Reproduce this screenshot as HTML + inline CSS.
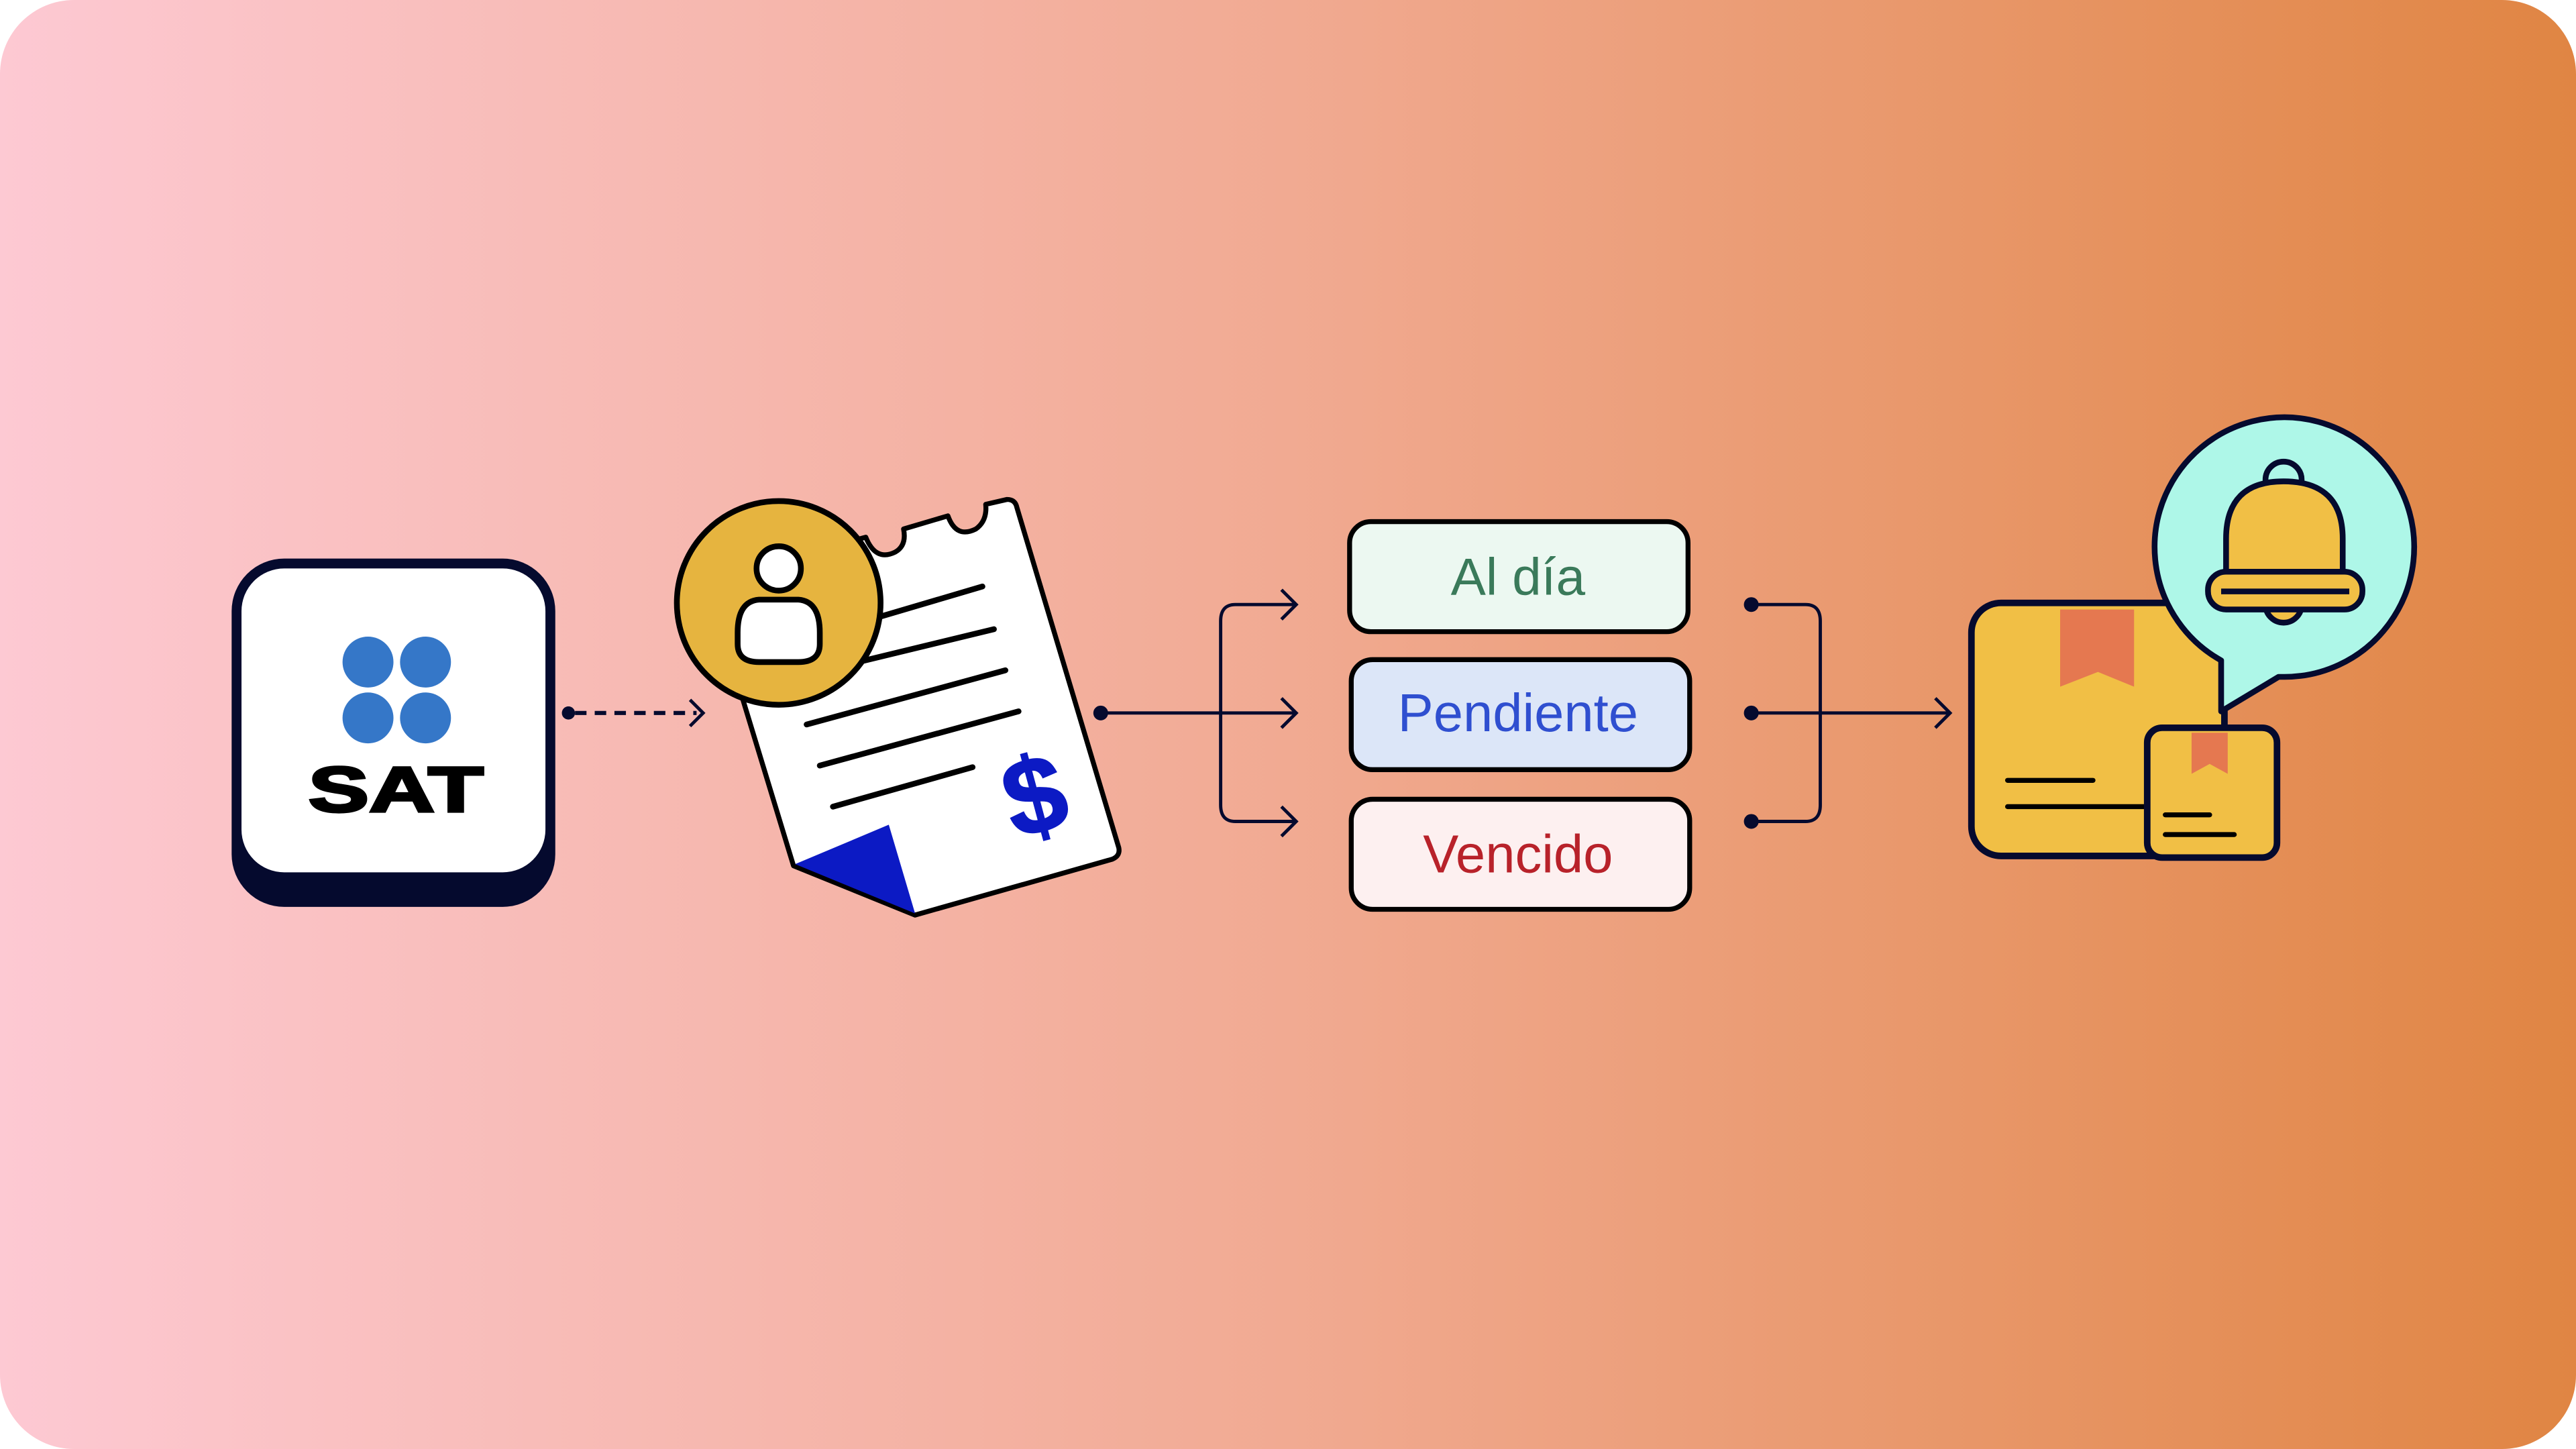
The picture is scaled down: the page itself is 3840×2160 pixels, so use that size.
<!DOCTYPE html>
<html><head><meta charset="utf-8"><style>
html,body{margin:0;padding:0;background:#fff;}
svg{display:block;}
</style></head><body>
<svg width="3840" height="2160" viewBox="0 0 1568 882" xmlns="http://www.w3.org/2000/svg">
<defs>
<linearGradient id="bg" x1="0" x2="1" y1="0" y2="0">
<stop offset="0" stop-color="#fdc9d3"/>
<stop offset="0.5" stop-color="#f1aa92"/>
<stop offset="1" stop-color="#e08543"/>
</linearGradient>
</defs>
<rect x="0" y="0" width="1568" height="882" rx="45" fill="url(#bg)"/>

<!-- SAT card -->
<rect x="141" y="340" width="197" height="212" rx="32" fill="#050a2e"/>
<rect x="147" y="346" width="185" height="185" rx="26" fill="#fff"/>
<circle cx="224" cy="403" r="15.5" fill="#3577c8"/>
<circle cx="259" cy="403" r="15.5" fill="#3577c8"/>
<circle cx="224" cy="437" r="15.5" fill="#3577c8"/>
<circle cx="259" cy="437" r="15.5" fill="#3577c8"/>
<text x="241" y="494" text-anchor="middle" font-family="Liberation Sans, sans-serif" font-weight="bold" font-size="39" fill="#000" stroke="#000" stroke-width="1.5" transform="translate(241 0) scale(1.42 1) translate(-241 0)">SAT</text>

<!-- dashed arrow -->
<circle cx="346" cy="434" r="4" fill="#050a2e"/>
<line x1="350" y1="434" x2="424" y2="434" stroke="#050a2e" stroke-width="2.5" stroke-dasharray="7 5"/>
<polyline points="420,426 428,434 420,442" fill="none" stroke="#050a2e" stroke-width="2"/>

<!-- receipt -->
<path d="M440 350 L527 327 Q533 342 545 336 Q552 332 550 322 L577 314 Q582 328 594 322 Q601 317 600 307 L613 304 Q618 304 619 309 L681 516 Q682 521 677 523 L557 557 L483 527 L430 353 Z" fill="#fff" stroke="#000" stroke-width="3" stroke-linejoin="round"/>
<polygon points="484,526 541,502 557,556" fill="#0c1ac4"/>
<g stroke="#000" stroke-width="3.5" stroke-linecap="round">
<line x1="520" y1="380" x2="598" y2="357"/>
<line x1="510" y1="406" x2="605" y2="383"/>
<line x1="491" y1="441" x2="612" y2="408"/>
<line x1="499" y1="466" x2="620" y2="433"/>
<line x1="507" y1="491" x2="592" y2="467"/>
</g>
<text x="630" y="507" text-anchor="middle" font-family="Liberation Sans, sans-serif" font-weight="bold" font-size="66" fill="#0c1ac4" stroke="#0c1ac4" stroke-width="1" transform="rotate(-15 630 485)">$</text>

<!-- person circle -->
<circle cx="474" cy="367" r="62" fill="#e6b43f" stroke="#000" stroke-width="3.5"/>
<circle cx="474" cy="346" r="13.5" fill="#fff" stroke="#000" stroke-width="3.5"/>
<path d="M462 365 L486 365 Q499 366 499 385 L499 392 Q499 403 486 403 L462 403 Q449 403 449 392 L449 385 Q449 366 462 365 Z" fill="#fff" stroke="#000" stroke-width="3.5"/>

<!-- connector receipt -> boxes -->
<g stroke="#050a2e" stroke-width="2" fill="none">
<line x1="670" y1="434" x2="788" y2="434"/>
<path d="M788 368 L752 368 Q743 368 743 378 L743 490 Q743 500 752 500 L788 500"/>
<polyline points="780,359 789,368 780,377"/>
<polyline points="780,425 789,434 780,443"/>
<polyline points="780,491 789,500 780,509"/>
</g>
<circle cx="670" cy="434" r="4.5" fill="#050a2e"/>

<!-- status boxes -->
<rect x="821.5" y="317.5" width="206" height="67" rx="13" fill="#ecf8f1" stroke="#000" stroke-width="3"/>
<text x="924" y="362" text-anchor="middle" font-family="Liberation Sans, sans-serif" font-size="32" fill="#3a7a5a">Al día</text>
<rect x="822.5" y="401.5" width="206" height="67" rx="13" fill="#dce6f8" stroke="#000" stroke-width="3"/>
<text x="924" y="445" text-anchor="middle" font-family="Liberation Sans, sans-serif" font-size="32.5" fill="#2f4fd0">Pendiente</text>
<rect x="822.5" y="486.5" width="206" height="67" rx="13" fill="#fdf0f0" stroke="#000" stroke-width="3"/>
<text x="924" y="531" text-anchor="middle" font-family="Liberation Sans, sans-serif" font-size="32.5" fill="#b8222a">Vencido</text>

<!-- right bracket -->
<g stroke="#050a2e" stroke-width="2" fill="none">
<path d="M1066 368 L1099 368 Q1108 368 1108 378 L1108 490 Q1108 500 1099 500 L1066 500"/>
<line x1="1066" y1="434" x2="1186" y2="434"/>
<polyline points="1178,425 1187,434 1178,443"/>
</g>
<circle cx="1066" cy="368" r="4.5" fill="#050a2e"/>
<circle cx="1066" cy="434" r="4.5" fill="#050a2e"/>
<circle cx="1066" cy="500" r="4.5" fill="#050a2e"/>

<!-- big box -->
<rect x="1200" y="367" width="154" height="154" rx="18" fill="#f1bf45" stroke="#050a2e" stroke-width="4"/>
<polygon points="1254,371 1299,371 1299,418 1277,409 1254,418" fill="#e57850"/>
<g stroke="#000" stroke-width="3" stroke-linecap="round">
<line x1="1222" y1="475" x2="1274" y2="475"/>
<line x1="1222" y1="491" x2="1310" y2="491"/>
</g>

<!-- speech bubble -->
<path d="M1352 433 L1352 402 A79 79 0 1 1 1389 412 L1387 412 Z" fill="#aef7e8" stroke="#050a2e" stroke-width="3.5" stroke-linejoin="round"/>
<!-- bell -->
<circle cx="1390" cy="292" r="11" fill="none" stroke="#050a2e" stroke-width="3.5"/>
<path d="M1355 348 L1355 328 Q1355 293 1390 293 Q1426 293 1426 328 L1426 348 Z" fill="#f1bf45" stroke="#050a2e" stroke-width="3.5"/>
<circle cx="1390" cy="368" r="11" fill="#f1bf45" stroke="#050a2e" stroke-width="3.5"/>
<rect x="1344" y="348" width="94" height="23" rx="11" fill="#f1bf45" stroke="#050a2e" stroke-width="3.5"/>
<line x1="1352" y1="360" x2="1430" y2="360" stroke="#050a2e" stroke-width="3.5"/>

<!-- small box -->
<rect x="1307" y="443" width="79" height="79" rx="9" fill="#f1bf45" stroke="#050a2e" stroke-width="4"/>
<polygon points="1334,446 1356,446 1356,471 1345,465 1334,471" fill="#e57850"/>
<g stroke="#000" stroke-width="3" stroke-linecap="round">
<line x1="1318" y1="496" x2="1345" y2="496"/>
<line x1="1318" y1="508" x2="1360" y2="508"/>
</g>
</svg>
</body></html>
